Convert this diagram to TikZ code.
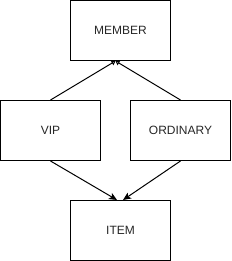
\documentclass[tikz,border=0pt]{standalone}
\usepackage{fontspec}
\setmainfont{Liberation Sans}
\usetikzlibrary{arrows.meta,calc}
\begin{document}
\begin{tikzpicture}[x=1pt,y=-1pt,
  entity/.style={draw=black,line width=1pt,minimum width=100pt,minimum height=60pt,inner sep=0pt,font=\fontsize{12}{14}\selectfont,text=black!85},
  inh/.style={line width=1pt,-{Triangle[open,length=4pt,width=5pt,line width=1pt]}},
  dep/.style={line width=1pt,-{Stealth[length=8pt,width=7pt,inset=2pt]}}]
\useasboundingbox (0,0) rectangle (231,261);
\node[entity] (member) at (120.5,30.5) {MEMBER};
\node[entity] (vip) at (50.5,130.5) {VIP};
\node[entity] (ordinary) at (180.5,130.5) {ORDINARY};
\node[entity] (item) at (120.5,230.5) {ITEM};
\coordinate (mtip) at ($(member.south)+(-5,0)$);
\coordinate (itipl) at ($(item.north)+(-3.5,0)$);
\coordinate (itipr) at ($(item.north)+(2.5,0)$);
\draw[inh] (vip.north) -- (mtip);
\draw[inh] (ordinary.north) -- (mtip);
\draw[dep] (vip.south) -- (itipl);
\draw[dep] (ordinary.south) -- (itipr);
\end{tikzpicture}
\end{document}
